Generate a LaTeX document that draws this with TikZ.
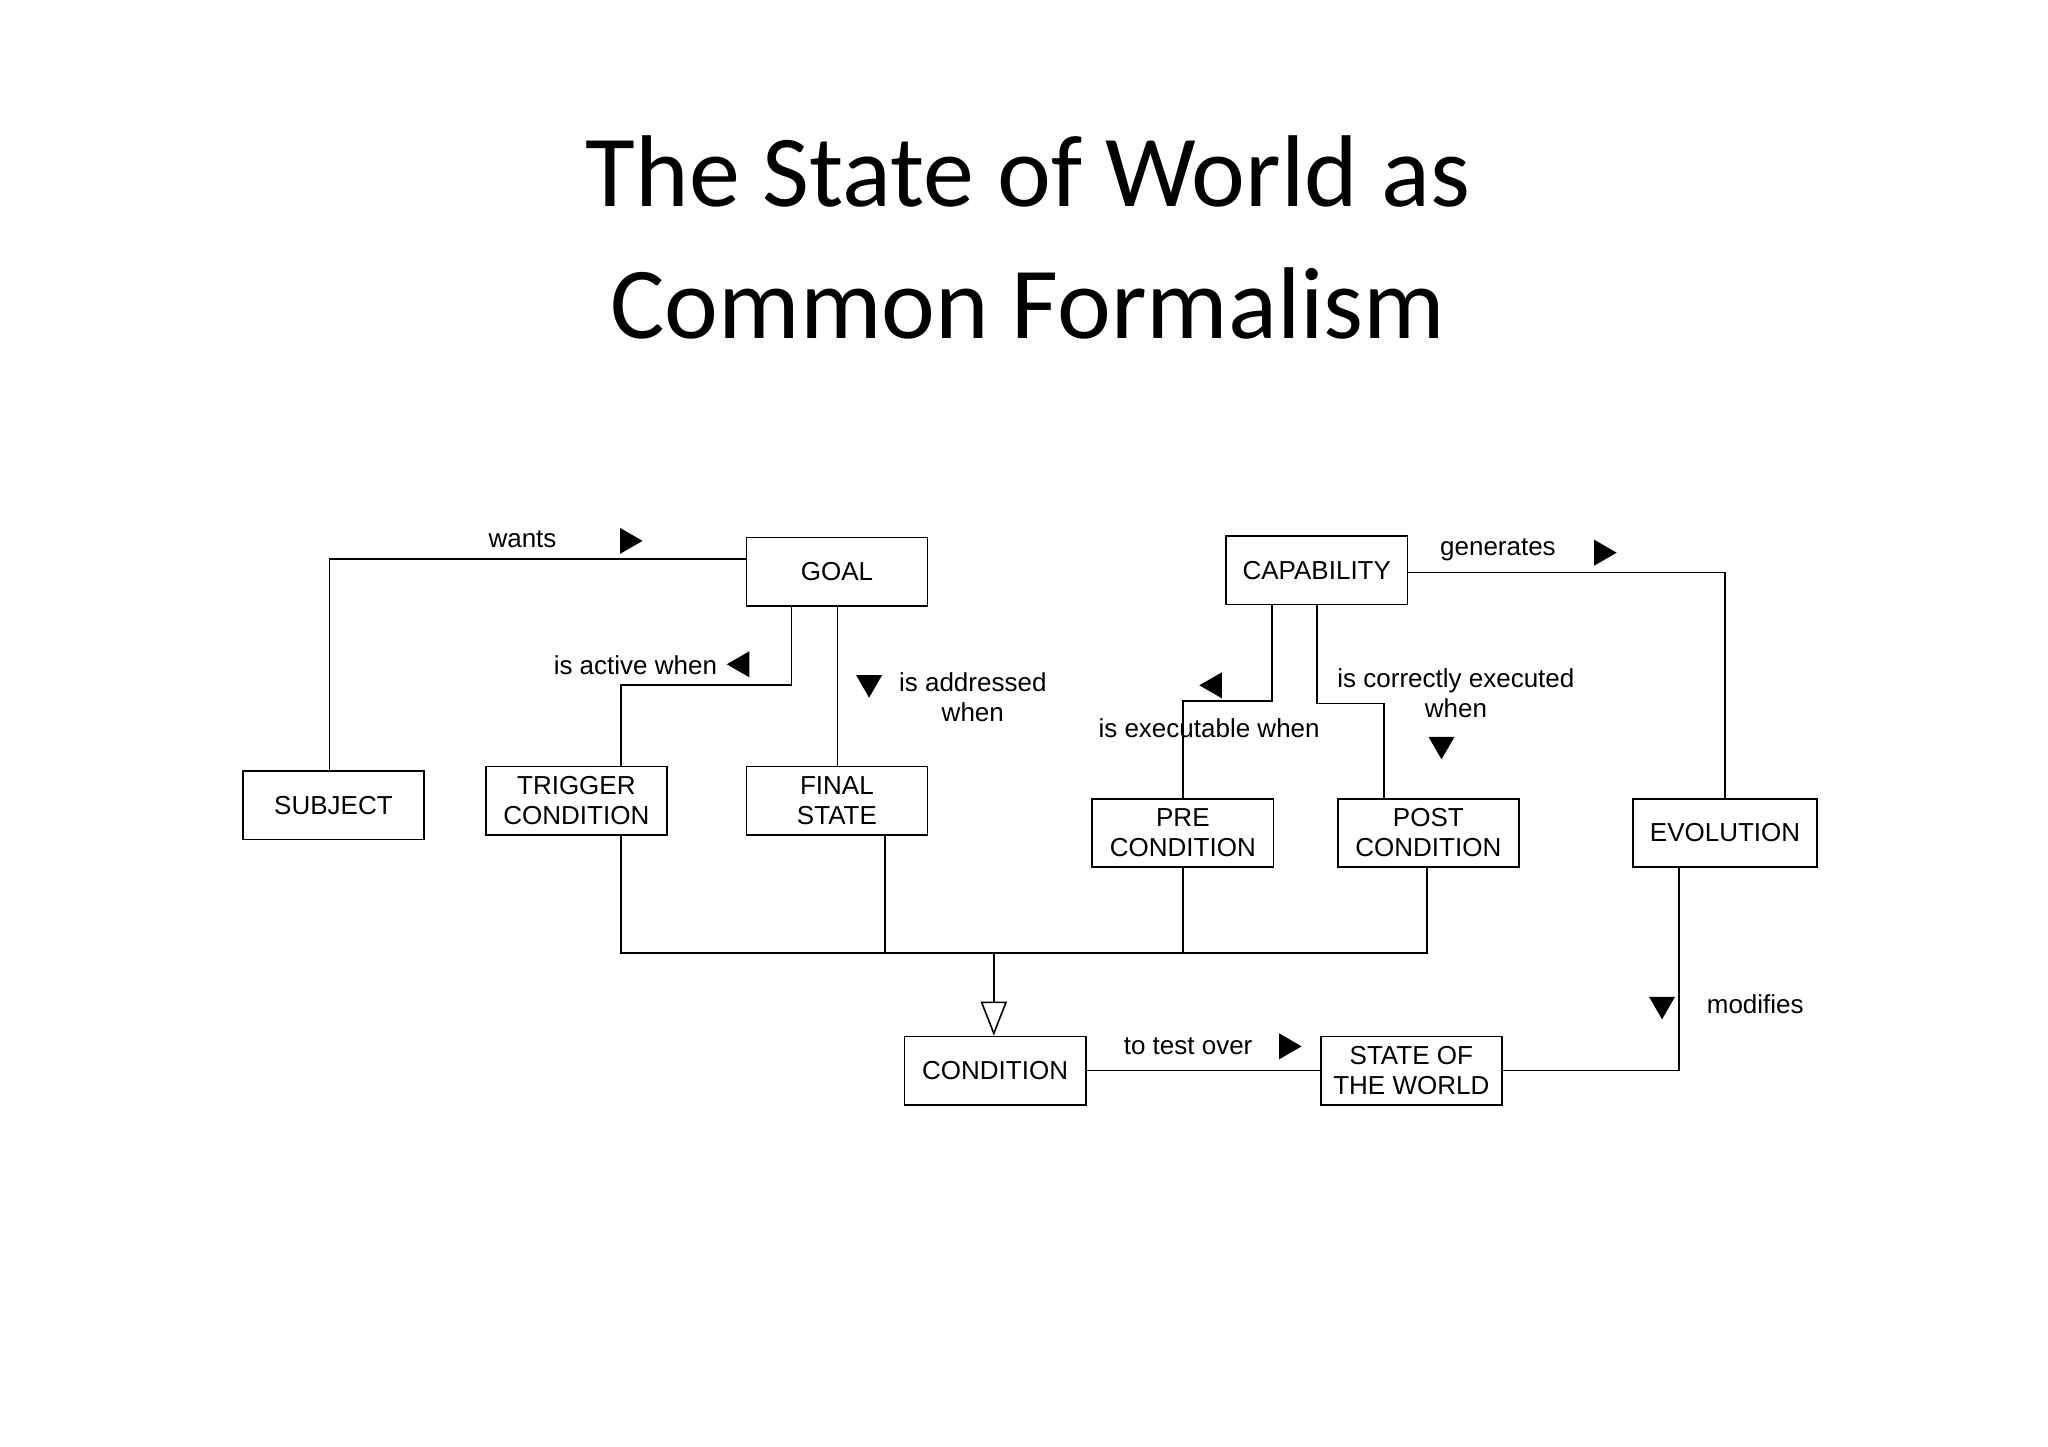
\documentclass[tikz,border=0pt]{standalone}
\usepackage{fontspec}
\setmainfont{Liberation Sans}
\newfontfamily\titlefont{Carlito}
\usetikzlibrary{shapes.geometric,arrows.meta}
\begin{document}
\begin{tikzpicture}[x=0.6565pt,y=-0.6565pt,
  box/.style={draw,line width=0.8pt,minimum width=138*0.6565pt,minimum height=52*0.6565pt,inner sep=0pt,align=center,font=\fontsize{13}{15}\selectfont},
  lab/.style={align=center,font=\fontsize{13}{15}\selectfont,inner sep=1pt},
  ln/.style={line width=0.8pt},
  tri/.style={regular polygon,regular polygon sides=3,fill=black,inner sep=0pt,minimum size=15pt},
  tr/.style={tri,shape border rotate=-90},
  tl/.style={tri,shape border rotate=90},
  td/.style={tri,shape border rotate=180}]
\useasboundingbox (0,0) rectangle (1560,1102);
\node[font=\titlefont\fontsize{51}{66}\selectfont,align=center] (title) at (783,181) {The State of World as\\Common Formalism};
\node[box] (goal) at (637.5,435.5) {GOAL};
\node[box] (cap) at (1003,434.5) {CAPABILITY};
\node[box] (subj) at (254,613.5) {SUBJECT};
\node[box] (trig) at (439,610) {TRIGGER\\CONDITION};
\node[box] (final) at (637.5,610) {FINAL\\STATE};
\node[box] (pre) at (901,634.5) {PRE\\CONDITION};
\node[box] (post) at (1088,634.5) {POST\\CONDITION};
\node[box,minimum width=140*0.6565pt] (evo) at (1314,634.5) {EVOLUTION};
\node[box] (cond) at (758,815.5) {CONDITION};
\node[box] (sow) at (1075,815.5) {STATE OF\\THE WORLD};
% wants
\draw[ln] (goal.west |- 0,426) -| (subj.north -| 251,0);
\node[lab] (lwants) at (398,411) {wants};
\node[tr] (twants) at (478,412) {};
% is active when
\draw[ln] (goal.south -| 603,0) |- (473,522) coordinate (c1) -- (trig.north -| 473,0);
\node[lab] (lact) at (484,507) {is active when};
\node[tl] (tact) at (565,506) {};
% is addressed when
\draw[ln] (goal.south -| 638,0) -- (final.north -| 638,0);
\node[td] (tadd) at (662,520) {};
\node[lab] (ladd) at (741,531) {is addressed\\when};
% executable
\draw[ln] (cap.south -| 969,0) |- (901,534) coordinate (c2) -- (pre.north);
\node[tl] (texe) at (925,522) {};
\node[lab] (lexe) at (921,555) {is executable when};
% correctly executed
\draw[ln] (cap.south -| 1003,0) |- (1054,536) coordinate (c3) -- (post.north -| 1054,0);
\node[lab] (lcor) at (1109,528) {is correctly executed\\when};
\node[td] (tcor) at (1098,567) {};
% generates
\draw[ln] (cap.east |- 0,436) -| (evo.north);
\node[lab] (lgen) at (1141,419) {generates};
\node[tr] (tgen) at (1220,421) {};
% bus
\coordinate (b1) at (473,726);
\coordinate (b2) at (1087,726);
\draw[ln] (trig.south -| 473,0) -- (b1) -- (b2) -- (post.south -| 1087,0);
\draw[ln] (final.south -| 674,0) -- (674,726);
\draw[ln] (pre.south) -- (901,726);
\draw[ln,-{Triangle[open,length=26*0.6565pt,width=20*0.6565pt]}] (757,726) -- (cond.north -| 757,0);
% to test over
\draw[ln] (cond.east) -- (sow.west);
\node[lab] (ltest) at (905,797) {to test over};
\node[tr] (ttest) at (980,797) {};
% modifies
\draw[ln] (evo.south -| 1279,0) |- (sow.east);
\node[td] (tmod) at (1266,765) {};
\node[lab] (lmod) at (1337,765) {modifies};
\end{tikzpicture}
\end{document}
